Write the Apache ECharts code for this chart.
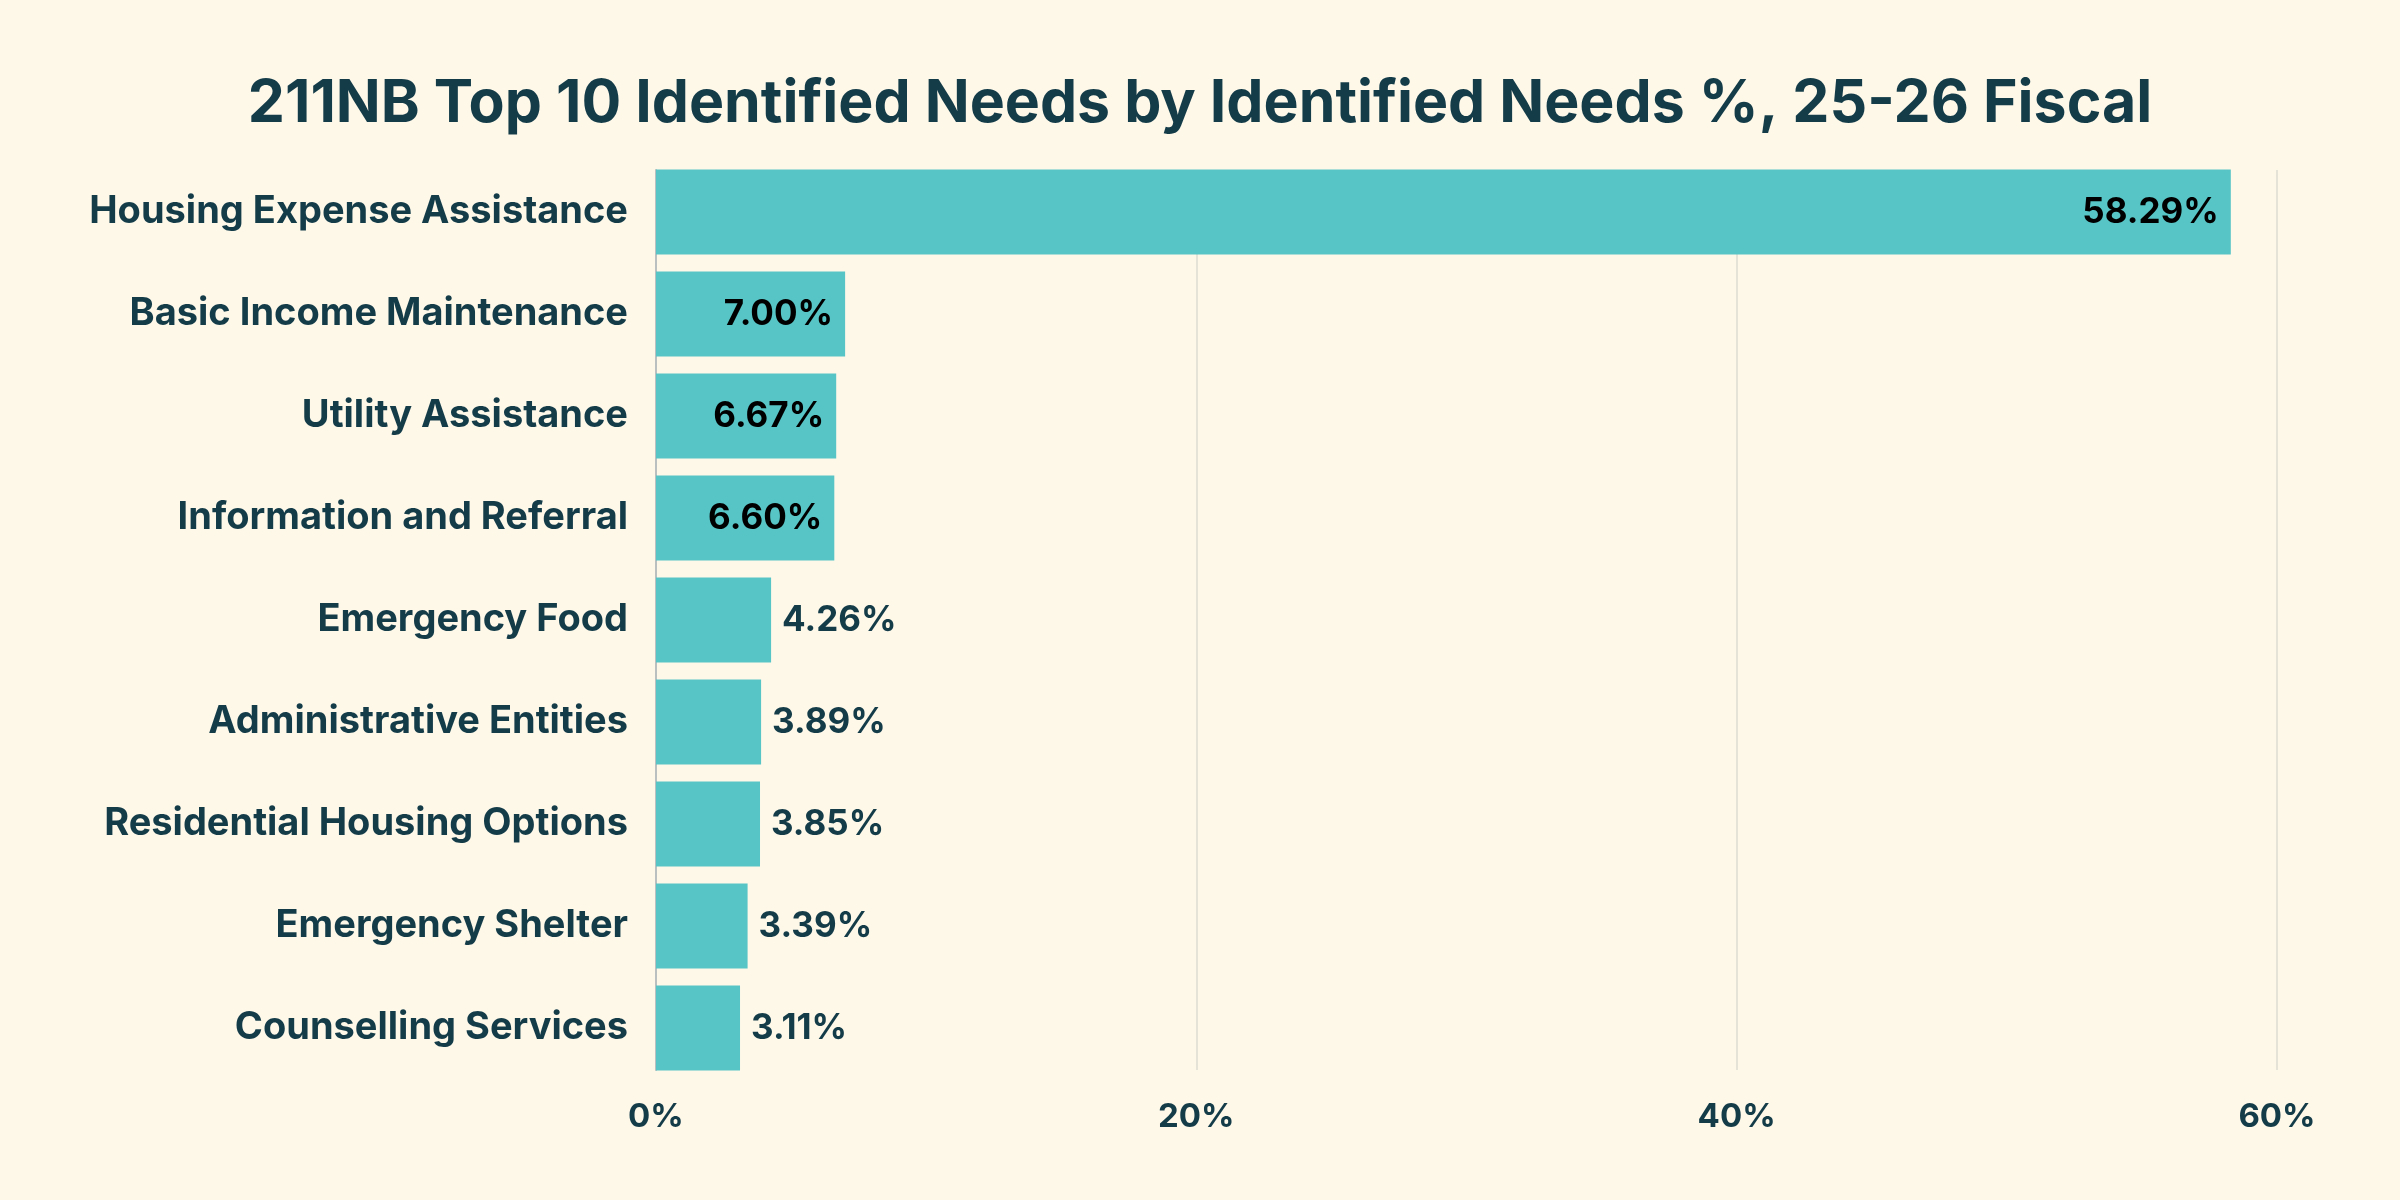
<!DOCTYPE html>
<html><head><meta charset="utf-8">
<script src="https://cdn.jsdelivr.net/npm/echarts@6/dist/echarts.min.js"></script>
<style>html,body{margin:0;padding:0;background:#FEF8E9;}#c{width:2400px;height:1200px;}</style>
</head><body><div id="c"></div>
<script>
const categories = ["Housing Expense Assistance","Basic Income Maintenance","Utility Assistance","Information and Referral","Emergency Food","Administrative Entities","Residential Housing Options","Emergency Shelter","Counselling Services"];
const values = [58.29, 7.00, 6.67, 6.60, 4.26, 3.89, 3.85, 3.39, 3.11];
const tickValues = [0, 20, 40, 60];
const titleText = "211NB Top 10 Identified Needs by Identified Needs %, 25-26 Fiscal";

const FONT = "Inter";
const DARK = "#133B48";
const chart = echarts.init(document.getElementById('c'), null, {renderer:'canvas'});
const data = values.map(v => {
  const inside = v > 5;
  return {
    value: v,
    label: inside
      ? {position:'insideRight', color:'#000000', distance:12}
      : {position:'right', color:DARK, distance:11}
  };
});
const xMin = tickValues[0], xMax = tickValues[tickValues.length-1];
chart.setOption({
  backgroundColor:'#FEF8E9',
  title:{text:titleText, left:'center', top:70, textStyle:{fontFamily:FONT, fontWeight:700, fontSize:59, color:DARK}},
  grid:[
    {left:656, right:123, top:161, bottom:121, containLabel:false},
    {left:656, right:123, top:170, bottom:130, containLabel:false}
  ],
  xAxis:[
    {gridIndex:0, type:'value', min:xMin, max:xMax, interval:20,
      axisLine:{show:false}, axisTick:{show:false}, splitLine:{show:false},
      axisLabel:{formatter:'{value}%', fontFamily:FONT, fontWeight:700, fontSize:33, color:DARK, margin:22}},
    {gridIndex:1, type:'value', min:xMin, max:xMax, interval:20,
      axisLine:{show:false}, axisTick:{show:false}, axisLabel:{show:false},
      splitLine:{show:true, lineStyle:{color:'#DDDCD2', width:1.5}}}
  ],
  yAxis:[
    {gridIndex:0, type:'category', data:categories, inverse:true,
      axisLine:{show:false}, axisTick:{show:false},
      axisLabel:{fontFamily:FONT, fontWeight:700, fontSize:38, color:DARK, margin:28}},
    {gridIndex:1, type:'value', min:0, max:1, axisLabel:{show:false}, splitLine:{show:false}, axisTick:{show:false},
      axisLine:{show:true, lineStyle:{color:'#B9C0BF', width:2}}}
  ],
  series:[{type:'bar', xAxisIndex:0, yAxisIndex:0, data:data, barCategoryGap:'16.7%', z:3,
    itemStyle:{color:'#57C4C5'},
    label:{show:true, formatter:p => p.value.toFixed(2)+'%', fontFamily:FONT, fontWeight:700, fontSize:35}}]
});
</script></body></html>
